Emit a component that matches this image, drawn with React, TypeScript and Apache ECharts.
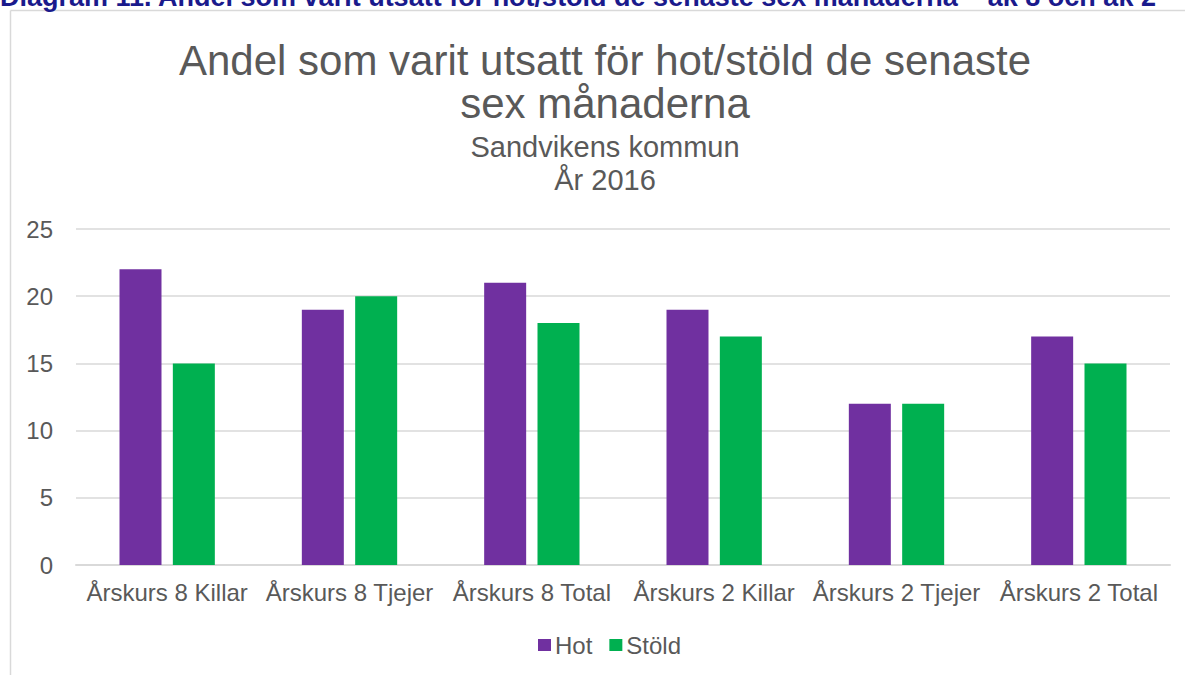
import React, { useEffect, useRef } from "react";
import * as echarts from "echarts";

const categories = [
  "Årskurs 8 Killar",
  "Årskurs 8 Tjejer",
  "Årskurs 8 Total",
  "Årskurs 2 Killar",
  "Årskurs 2 Tjejer",
  "Årskurs 2 Total",
];
const hotValues = [22, 19, 21, 19, 12, 17];
const stoldValues = [15, 20, 18, 17, 12, 15];
const seriesNames = ["Hot", "Stöld"];
const headingText =
  "Diagram 11. Andel som varit utsatt för hot/stöld de senaste sex månaderna – åk 8 och åk 2";
const titleLines = ["Andel som varit utsatt för hot/stöld de senaste", "sex månaderna"];
const subtitleText = "Sandvikens kommun\nÅr 2016";

const FONT = "'Liberation Sans', Arial, sans-serif";
const GRAY = "#595959";

export default function App() {
  const ref = useRef<HTMLDivElement>(null);
  useEffect(() => {
    if (!ref.current) return;
    const chart = echarts.init(ref.current, undefined, { renderer: "svg" });
    const titleStyle = {
      fontFamily: FONT,
      fontSize: 42,
      fontWeight: "normal",
      color: GRAY,
      lineHeight: 42,
    };
    chart.setOption({
      animation: false,
      backgroundColor: "#ffffff",
      textStyle: { fontFamily: FONT },
      title: [
        {
          text: titleLines[0],
          left: 605,
          textAlign: "center",
          top: 39,
          padding: 0,
          textStyle: titleStyle,
        },
        {
          text: titleLines[1],
          left: 605,
          textAlign: "center",
          top: 82,
          padding: 0,
          textStyle: titleStyle,
        },
        {
          text: subtitleText,
          left: 605,
          textAlign: "center",
          top: 130,
          padding: 0,
          textStyle: {
            fontFamily: FONT,
            fontSize: 29,
            fontWeight: "normal",
            color: GRAY,
            lineHeight: 33,
            align: "center",
          },
        },
      ],
      graphic: [
        {
          type: "line",
          shape: { x1: 10.5, y1: 10.5, x2: 1185, y2: 10.5 },
          style: { stroke: "#D9D9D9", lineWidth: 1.5 },
          silent: true,
        },
        {
          type: "line",
          shape: { x1: 10.5, y1: 10.5, x2: 10.5, y2: 675 },
          style: { stroke: "#D9D9D9", lineWidth: 1.5 },
          silent: true,
        },
        {
          type: "text",
          left: 0,
          top: -17,
          style: {
            text: headingText,
            fontFamily: FONT,
            fontSize: 27,
            fontWeight: "bold",
            fill: "#1A1A8C",
          },
          silent: true,
        },
      ],
      legend: {
        data: seriesNames,
        top: 633,
        left: 538,
        padding: 0,
        itemWidth: 13,
        itemHeight: 12,
        itemGap: 17,
        icon: "rect",
        textStyle: { fontFamily: FONT, fontSize: 24, color: GRAY, padding: [0, 0, 0, -1] },
      },
      grid: { left: 76, right: 15, top: 229, bottom: 110 },
      xAxis: {
        type: "category",
        data: categories,
        axisLine: { lineStyle: { color: "#D9D9D9", width: 2 } },
        axisTick: { show: false },
        axisLabel: { fontFamily: FONT, fontSize: 24, color: GRAY, margin: 15, interval: 0 },
      },
      yAxis: {
        type: "value",
        min: 0,
        max: 25,
        interval: 5,
        axisLine: { show: false },
        axisTick: { show: false },
        splitLine: { lineStyle: { color: "#D9D9D9", width: 1.5 } },
        axisLabel: { fontFamily: FONT, fontSize: 24, color: GRAY, margin: 23 },
      },
      series: [
        {
          name: seriesNames[0],
          type: "bar",
          data: hotValues,
          barWidth: 42,
          barGap: "27%",
          itemStyle: { color: "#7030A0" },
        },
        {
          name: seriesNames[1],
          type: "bar",
          data: stoldValues,
          barWidth: 42,
          itemStyle: { color: "#00B050" },
        },
      ],
    });
    return () => chart.dispose();
  }, []);
  return (
    <div
      ref={ref}
      style={{ position: "absolute", left: 0, top: 0, width: 1185, height: 675 }}
    />
  );
}
